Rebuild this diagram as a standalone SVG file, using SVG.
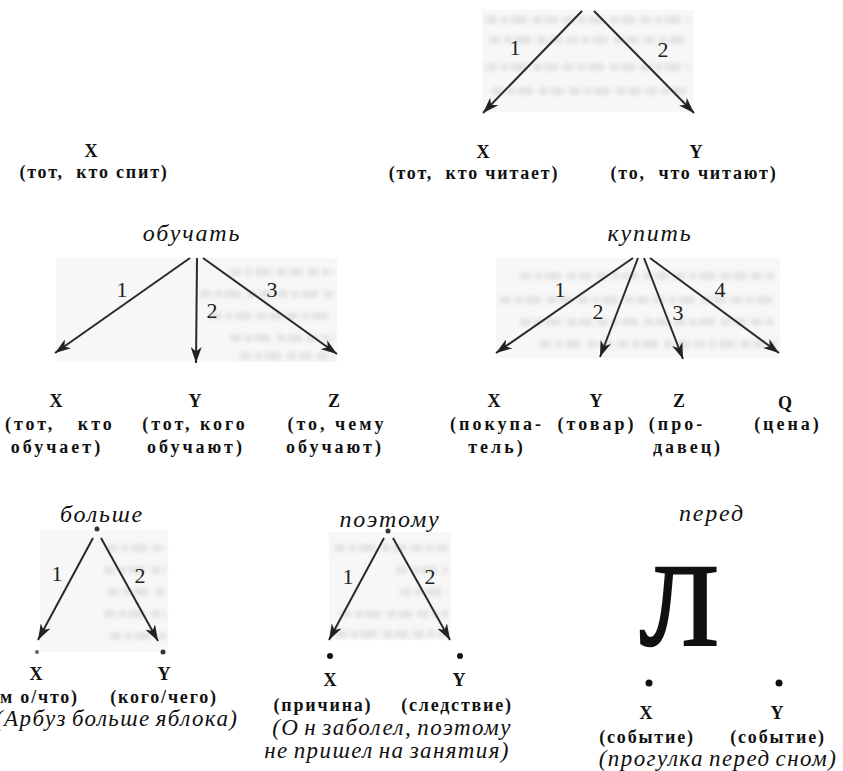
<svg xmlns="http://www.w3.org/2000/svg" width="843" height="771" viewBox="0 0 843 771">
  <defs>
    <marker id="ah" markerUnits="userSpaceOnUse" markerWidth="17" markerHeight="11" refX="16" refY="5.5" orient="auto">
      <path d="M0,0 L16,5.5 L0,11 L4.5,5.5 Z" fill="#222"/>
    </marker>
    <filter id="soft" x="-5%" y="-30%" width="110%" height="160%">
      <feGaussianBlur stdDeviation="2"/>
    </filter>
  </defs>
  <style>
    .b { font-family: "Liberation Serif", "DejaVu Serif", serif; font-weight: bold; font-size: 18px; letter-spacing: 1.8px; text-anchor: middle; white-space: pre; fill: #111; }
    .w { letter-spacing: 3px; }
    .it { font-family: "Liberation Serif", "DejaVu Serif", serif; font-style: italic; font-size: 24px; letter-spacing: 1.8px; text-anchor: middle; white-space: pre; fill: #111; }
    .ex { font-family: "Liberation Serif", "DejaVu Serif", serif; font-style: italic; font-size: 23px; letter-spacing: 1.4px; word-spacing: -2px; text-anchor: middle; white-space: pre; fill: #111; }
    .num { font-family: "Liberation Serif", "DejaVu Serif", serif; font-size: 22px; text-anchor: middle; fill: #222; }
    .arr { stroke: #2a2a2a; stroke-width: 2; fill: none; marker-end: url(#ah); }
    .patch { fill: #f7f7f7; }
    .ghost { stroke: #e2e2e2; stroke-width: 7; fill: none; stroke-dasharray: 11 4 7 3 16 6 9 3 13 5; filter: url(#soft); }
  </style>

  <rect width="843" height="771" fill="#ffffff"/>

  <!-- faint scanned backdrop patches behind the arrow fans -->
  <g id="backdrops">
    <rect class="patch" x="482" y="10" width="212" height="102"/>
    <path class="ghost" d="M486,20 H690 M490,40 H688 M486,67 H690 M492,91 H686"/>
    <rect class="patch" x="56" y="258" width="281" height="104"/>
    <path class="ghost" d="M230,272 H334 M200,294 H334 M210,316 H334 M230,338 H334 M240,356 H334"/>
    <rect class="patch" x="496" y="258" width="284" height="100"/>
    <path class="ghost" d="M520,276 H776 M500,300 H776 M520,322 H776 M540,344 H776"/>
    <rect class="patch" x="40" y="530" width="128" height="122"/>
    <path class="ghost" d="M106,548 H166 M104,570 H166 M108,592 H166 M104,614 H166 M110,636 H166"/>
    <rect class="patch" x="329" y="532" width="122" height="108"/>
    <path class="ghost" d="M334,548 H448 M396,570 H448 M400,592 H448 M340,614 H448 M336,634 H448"/>
  </g>

  <!-- connectors -->
  <g id="connectors">
    <line class="arr" x1="582" y1="11" x2="483" y2="113"/>
    <line class="arr" x1="594" y1="11" x2="694" y2="113"/>

    <line class="arr" x1="190" y1="258" x2="55" y2="353"/>
    <line class="arr" x1="197" y1="258" x2="196" y2="363"/>
    <line class="arr" x1="203" y1="258" x2="337" y2="354"/>

    <line class="arr" x1="633" y1="258" x2="496" y2="353"/>
    <line class="arr" x1="638" y1="258" x2="600" y2="357"/>
    <line class="arr" x1="644" y1="258" x2="683" y2="359"/>
    <line class="arr" x1="650" y1="258" x2="779" y2="353"/>

    <line class="arr" x1="93" y1="538" x2="38" y2="640"/>
    <line class="arr" x1="101" y1="538" x2="158" y2="641"/>

    <line class="arr" x1="384" y1="538" x2="329" y2="640"/>
    <line class="arr" x1="393" y1="538" x2="450" y2="640"/>
  </g>

  <!-- спать -->
  <g id="n-spat">
    <text class="b" x="92" y="157">X</text>
    <text class="b" x="94" y="178">(тот,  кто спит)</text>
  </g>

  <!-- читать -->
  <g id="n-chitat">
    <text class="num" x="515" y="55">1</text>
    <text class="num" x="663" y="57">2</text>
    <text class="b" x="484" y="158">X</text>
    <text class="b" x="474" y="179">(тот,  кто читает)</text>
    <text class="b" x="697" y="158">Y</text>
    <text class="b" x="694" y="179">(то,  что читают)</text>
  </g>

  <!-- обучать -->
  <g id="n-obuchat">
    <text class="it" x="192" y="241">обучать</text>
    <text class="num" x="122" y="297">1</text>
    <text class="num" x="212" y="318">2</text>
    <text class="num" x="272" y="297">3</text>
    <text class="b" x="57" y="407">X</text>
    <text class="b" x="196" y="407">Y</text>
    <text class="b" x="335" y="407">Z</text>
    <text class="b w" x="5" y="430" style="text-anchor:start">(тот,   кто</text>
    <text class="b w" x="195" y="430">(тот, кого</text>
    <text class="b w" x="337" y="430">(то, чему</text>
    <text class="b w" x="57" y="453">обучает)</text>
    <text class="b w" x="196" y="453">обучают)</text>
    <text class="b w" x="335" y="453">обучают)</text>
  </g>

  <!-- купить -->
  <g id="n-kupit">
    <text class="it" x="650" y="241">купить</text>
    <text class="num" x="560" y="297">1</text>
    <text class="num" x="598" y="319">2</text>
    <text class="num" x="678" y="320">3</text>
    <text class="num" x="720" y="297">4</text>
    <text class="b" x="495" y="407">X</text>
    <text class="b" x="597" y="407">Y</text>
    <text class="b" x="680" y="407">Z</text>
    <text class="b" x="786" y="409">Q</text>
    <text class="b w" x="497" y="430">(покупа-</text>
    <text class="b w" x="597" y="430">(товар)</text>
    <text class="b w" x="677" y="430">(про-</text>
    <text class="b w" x="788" y="430">(цена)</text>
    <text class="b w" x="497" y="453">тель)</text>
    <text class="b w" x="688" y="453">давец)</text>
  </g>

  <!-- больше -->
  <g id="n-bolshe">
    <text class="it" x="102" y="522">больше</text>
    <circle cx="97" cy="529" r="2.5" fill="#333"/>
    <text class="num" x="57" y="581">1</text>
    <text class="num" x="140" y="583">2</text>
    <circle cx="37" cy="652" r="2" fill="#666"/>
    <circle cx="163" cy="652" r="2.5" fill="#333"/>
    <text class="b" x="37" y="680">X</text>
    <text class="b" x="165" y="680">Y</text>
    <text class="b" x="0" y="703" style="text-anchor:start">м о/что)</text>
    <text class="b" x="164" y="703">(кого/чего)</text>
    <text class="ex" x="-5" y="726" style="text-anchor:start">(Арбуз больше яблока)</text>
  </g>

  <!-- поэтому -->
  <g id="n-poetomu">
    <text class="it" x="390" y="527">поэтому</text>
    <circle cx="388" cy="531" r="2.5" fill="#333"/>
    <text class="num" x="348" y="584">1</text>
    <text class="num" x="430" y="584">2</text>
    <circle cx="330" cy="656" r="3" fill="#111"/>
    <circle cx="460" cy="656" r="3" fill="#111"/>
    <text class="b" x="331" y="686">X</text>
    <text class="b" x="460" y="686">Y</text>
    <text class="b" x="323" y="711">(причина)</text>
    <text class="b" x="457" y="711">(следствие)</text>
    <text class="ex" x="392" y="735">(О<tspan dx="5">н</tspan> заболел, поэтому</text>
    <text class="ex" x="387" y="758">не пришел на занятия)</text>
  </g>

  <!-- перед -->
  <g id="n-pered">
    <text class="it" x="712" y="521">перед</text>
    <text x="640" y="645" style="font-family:'Liberation Serif','DejaVu Serif',serif;font-size:116px;fill:#111;stroke:#111;stroke-width:2.5">Л</text>
    <circle cx="649" cy="683" r="3.5" fill="#111"/>
    <circle cx="779" cy="683" r="3.5" fill="#111"/>
    <text class="b" x="647" y="719">X</text>
    <text class="b" x="778" y="719">Y</text>
    <text class="b" x="647" y="743">(событие)</text>
    <text class="b" x="778" y="743">(событие)</text>
    <text class="ex" x="718" y="766">(прогулка перед сном)</text>
  </g>
</svg>
